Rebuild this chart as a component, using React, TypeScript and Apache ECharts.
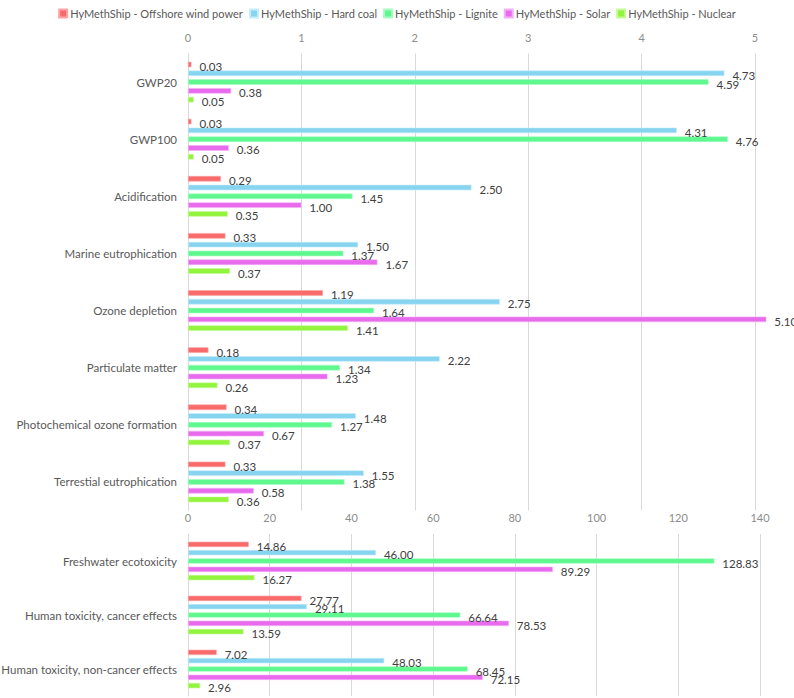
import React, { useEffect, useRef } from "react";
import * as echarts from "echarts";

const seriesNames = [
  "HyMethShip - Offshore wind power",
  "HyMethShip - Hard coal",
  "HyMethShip - Lignite",
  "HyMethShip - Solar",
  "HyMethShip - Nuclear",
];
const colors = ["#F96B6B", "#86D4F0", "#5EF88F", "#E86BEE", "#92F43C"];
const borderColors = ["#FBA5A5", "#C4ECFA", "#A8FCC3", "#F3B0F6", "#C5FA95"];

const topCategories = [
  "GWP20",
  "GWP100",
  "Acidification",
  "Marine eutrophication",
  "Ozone depletion",
  "Particulate matter",
  "Photochemical ozone formation",
  "Terrestial eutrophication",
];
const topOffshore = [0.03, 0.03, 0.29, 0.33, 1.19, 0.18, 0.34, 0.33];
const topHardCoal = [4.73, 4.31, 2.5, 1.5, 2.75, 2.22, 1.48, 1.55];
const topLignite = [4.59, 4.76, 1.45, 1.37, 1.64, 1.34, 1.27, 1.38];
const topSolar = [0.38, 0.36, 1.0, 1.67, 5.1, 1.23, 0.67, 0.58];
const topNuclear = [0.05, 0.05, 0.35, 0.37, 1.41, 0.26, 0.37, 0.36];

const bottomCategories = [
  "Freshwater ecotoxicity",
  "Human toxicity, cancer effects",
  "Human toxicity, non-cancer effects",
];
const bottomOffshore = [14.86, 27.77, 7.02];
const bottomHardCoal = [46.0, 29.11, 48.03];
const bottomLignite = [128.83, 66.64, 68.45];
const bottomSolar = [89.29, 78.53, 72.15];
const bottomNuclear = [16.27, 13.59, 2.96];

const topTicks = { min: 0, max: 5, interval: 1 };
const bottomTicks = { min: 0, max: 140, interval: 20 };

const FONT = "Lato";

export default function App() {
  const ref = useRef<HTMLDivElement>(null);
  useEffect(() => {
    if (!ref.current) return;
    const chart = echarts.init(ref.current, undefined, { renderer: "svg" });
    const topData = [topOffshore, topHardCoal, topLignite, topSolar, topNuclear];
    const bottomData = [bottomOffshore, bottomHardCoal, bottomLignite, bottomSolar, bottomNuclear];

    const mkSeries = (data: number[], i: number, idx: number, bw: number, gap: string) => ({
      name: seriesNames[i],
      type: "bar",
      xAxisIndex: idx,
      yAxisIndex: idx,
      data,
      barWidth: bw,
      barGap: gap,
      clip: false,
      itemStyle: { color: colors[i], borderColor: borderColors[i], borderWidth: 0.6 },
      label: {
        show: true,
        position: "right",
        distance: 8,
        offset: [0, 2],
        formatter: (p: any) => Number(p.value).toFixed(2),
        fontFamily: FONT,
        fontSize: 11.5,
        color: "#404040",
      },
    });

    const xAxisCommon = (t: any, gridIndex: number) => ({
      type: "value",
      gridIndex,
      position: "top",
      min: t.min,
      max: t.max,
      interval: t.interval,
      axisLine: { show: false },
      axisTick: { show: false },
      axisLabel: { color: "#8C8C8C", fontFamily: FONT, fontSize: 11, margin: 11 },
      splitLine: { lineStyle: { color: "#D9D9D9", width: 1 } },
    });
    const yAxisCommon = (cats: string[], gridIndex: number) => ({
      type: "category",
      gridIndex,
      data: cats,
      inverse: true,
      axisLine: { show: true, lineStyle: { color: "#D9D9D9" } },
      axisTick: { show: false },
      axisLabel: { color: "#595959", fontFamily: FONT, fontSize: 11.5, margin: 11 },
    });

    chart.setOption({
      animation: false,
      backgroundColor: "#ffffff",
      textStyle: { fontFamily: FONT },
      legend: {
        top: 3,
        left: "center",
        icon: "rect",
        itemWidth: 8,
        itemHeight: 8,
        itemGap: 6,
        textStyle: { color: "#595959", fontFamily: FONT, fontSize: 11, padding: [0, 0, 0, -2] },
        data: seriesNames,
      },
      grid: [
        { left: 188, right: 39, top: 53.5, height: 457, containLabel: false, outerBoundsMode: "none" },
        { left: 188, right: 34, top: 534, height: 162, containLabel: false, outerBoundsMode: "none" },
      ],
      xAxis: [xAxisCommon(topTicks, 0), xAxisCommon(bottomTicks, 1)],
      yAxis: [yAxisCommon(topCategories, 0), yAxisCommon(bottomCategories, 1)],
      series: [
        ...topData.map((d, i) => mkSeries(d, i, 0, 5.5, "60%")),
        ...bottomData.map((d, i) => mkSeries(d, i, 1, 5.3, "57%")),
      ],
    });
    return () => chart.dispose();
  }, []);
  return <div ref={ref} style={{ width: 794, height: 698, position: "absolute", left: 0, top: 0 }} />;
}
